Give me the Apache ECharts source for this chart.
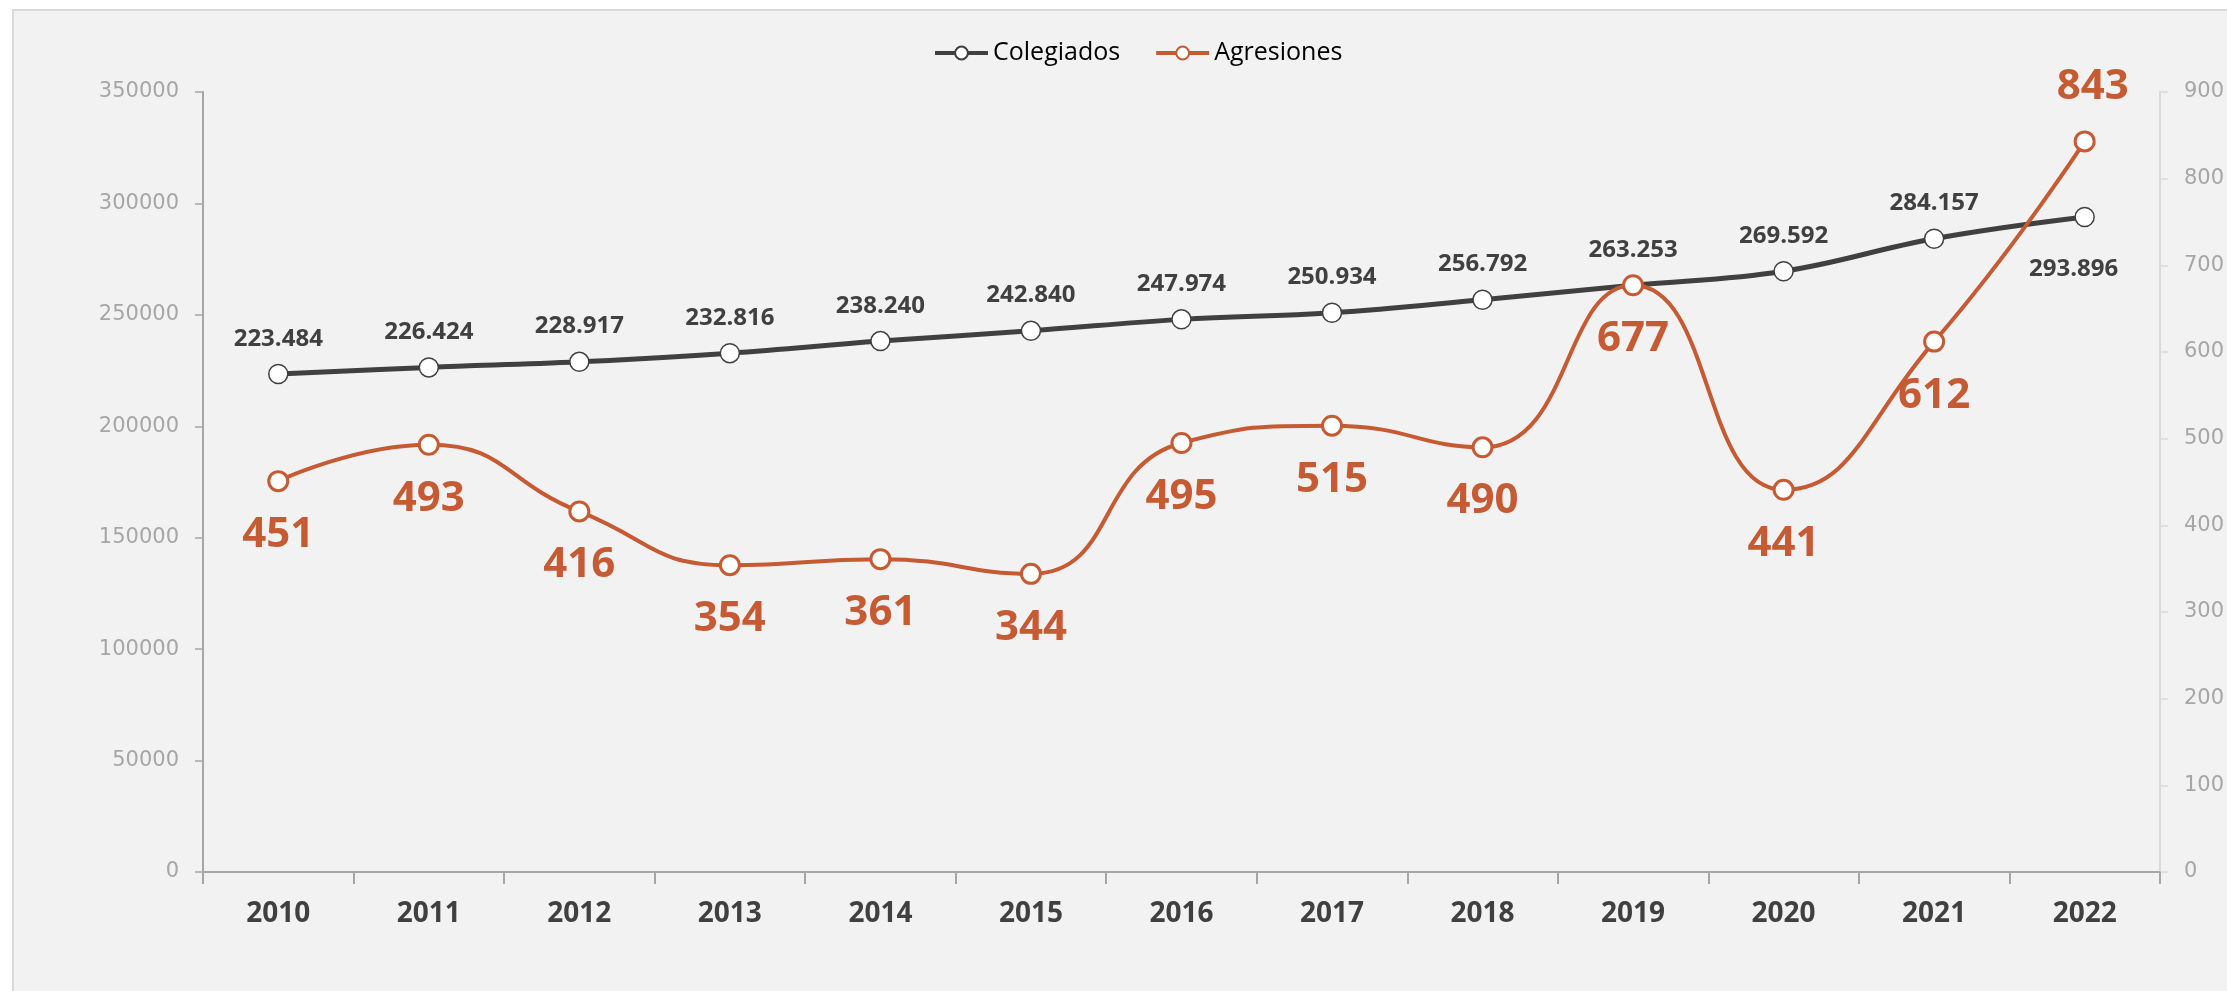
<!DOCTYPE html>
<html>
<head>
<meta charset="utf-8">
<script src="https://cdn.jsdelivr.net/npm/echarts@6/dist/echarts.min.js"></script>
<style>
  html, body { margin: 0; padding: 0; background: #ffffff; overflow: hidden; }
  #panel { position: absolute; left: 12px; top: 9px; width: 2400px; height: 1200px; background: #f2f2f2; border: 2px solid #d9d9d9; box-sizing: border-box; }
  #chart { position: absolute; left: 0; top: 0; width: 2227px; height: 991px; }
</style>
</head>
<body>
<div id="panel"></div>
<div id="chart"></div>
<script>
const years = ['2010','2011','2012','2013','2014','2015','2016','2017','2018','2019','2020','2021','2022'];
const colegiados = [223484, 226424, 228917, 232816, 238240, 242840, 247974, 250934, 256792, 263253, 269592, 284157, 293896];
const agresiones = [451, 493, 416, 354, 361, 344, 495, 515, 490, 677, 441, 612, 843];
const leftTicks = { min: 0, max: 350000, interval: 50000 };
const rightTicks = { min: 0, max: 900, interval: 100 };

const DARK = '#404040';
const ORANGE = '#c55a33';
const fmtDot = v => String(v).replace(/\B(?=(\d{3})+(?!\d))/g, '.');

const colData = colegiados.map((v, i) => {
  const d = { value: v };
  if (i === colegiados.length - 1) {
    d.label = { position: 'bottom', distance: 30, offset: [-11, 0] };
  }
  return d;
});
const agrData = agresiones.map((v, i) => {
  const d = { value: v };
  if (i === agresiones.length - 1) {
    d.label = { position: 'top', offset: [8, 0] };
  }
  return d;
});

const chart = echarts.init(document.getElementById('chart'), null, { renderer: 'canvas' });
chart.setOption({
  animation: false,
  legend: {
    data: ['Colegiados', 'Agresiones'],
    top: 33,
    left: 928,
    itemWidth: 53,
    itemHeight: 16,
    itemGap: 34,
    lineStyle: { width: 4 },
    textStyle: { fontFamily: 'Open Sans', fontSize: 25, color: '#000000', lineHeight: 30, padding: [0, 0, 0, 0] }
  },
  grid: { left: 203, right: 64, top: 92, bottom: 119, containLabel: false },
  xAxis: {
    type: 'category',
    data: years,
    boundaryGap: true,
    axisLine: { lineStyle: { color: '#a6a6a6', width: 2 } },
    axisTick: { show: true, alignWithLabel: false, length: 12, lineStyle: { color: '#a6a6a6', width: 2 } },
    axisLabel: { margin: 28, fontFamily: 'Open Sans', fontWeight: 'bold', fontSize: 28, color: DARK },
    splitLine: { show: false }
  },
  yAxis: [
    {
      type: 'value',
      min: leftTicks.min, max: leftTicks.max, interval: leftTicks.interval,
      position: 'left',
      axisLine: { show: true, lineStyle: { color: '#a6a6a6', width: 2 } },
      axisTick: { show: true, length: 8, lineStyle: { color: '#a6a6a6', width: 1.5 } },
      axisLabel: { margin: 24, fontFamily: 'DejaVu Sans', fontSize: 21, color: '#a6a6a6', formatter: v => String(v) },
      splitLine: { show: false }
    },
    {
      type: 'value',
      min: rightTicks.min, max: rightTicks.max, interval: rightTicks.interval,
      position: 'right',
      axisLine: { show: true, lineStyle: { color: '#d9d9d9', width: 2 } },
      axisTick: { show: true, length: 8, lineStyle: { color: '#d9d9d9', width: 1.5 } },
      axisLabel: { margin: 24, fontFamily: 'DejaVu Sans', fontSize: 21, color: '#a6a6a6', formatter: v => String(v) },
      splitLine: { show: false }
    }
  ],
  series: [
    {
      name: 'Colegiados',
      type: 'line',
      yAxisIndex: 0,
      data: colData,
      smooth: 0.4,
      symbol: 'circle',
      symbolSize: 19,
      lineStyle: { color: DARK, width: 5 },
      itemStyle: { color: '#ffffff', borderColor: DARK, borderWidth: 1.5 },
      label: {
        show: true, position: 'top', distance: 13,
        formatter: p => fmtDot(p.value),
        fontFamily: 'Open Sans', fontWeight: 'bold', fontSize: 24, color: DARK
      },
      z: 3
    },
    {
      name: 'Agresiones',
      type: 'line',
      yAxisIndex: 1,
      data: agrData,
      smooth: 0.5,
      symbol: 'circle',
      symbolSize: 19,
      lineStyle: { color: ORANGE, width: 4 },
      itemStyle: { color: '#ffffff', borderColor: ORANGE, borderWidth: 3 },
      label: {
        show: true, position: 'bottom', distance: 22,
        fontFamily: 'Open Sans', fontWeight: 'bold', fontSize: 42, color: ORANGE
      },
      z: 4
    }
  ]
});
</script>
</body>
</html>
